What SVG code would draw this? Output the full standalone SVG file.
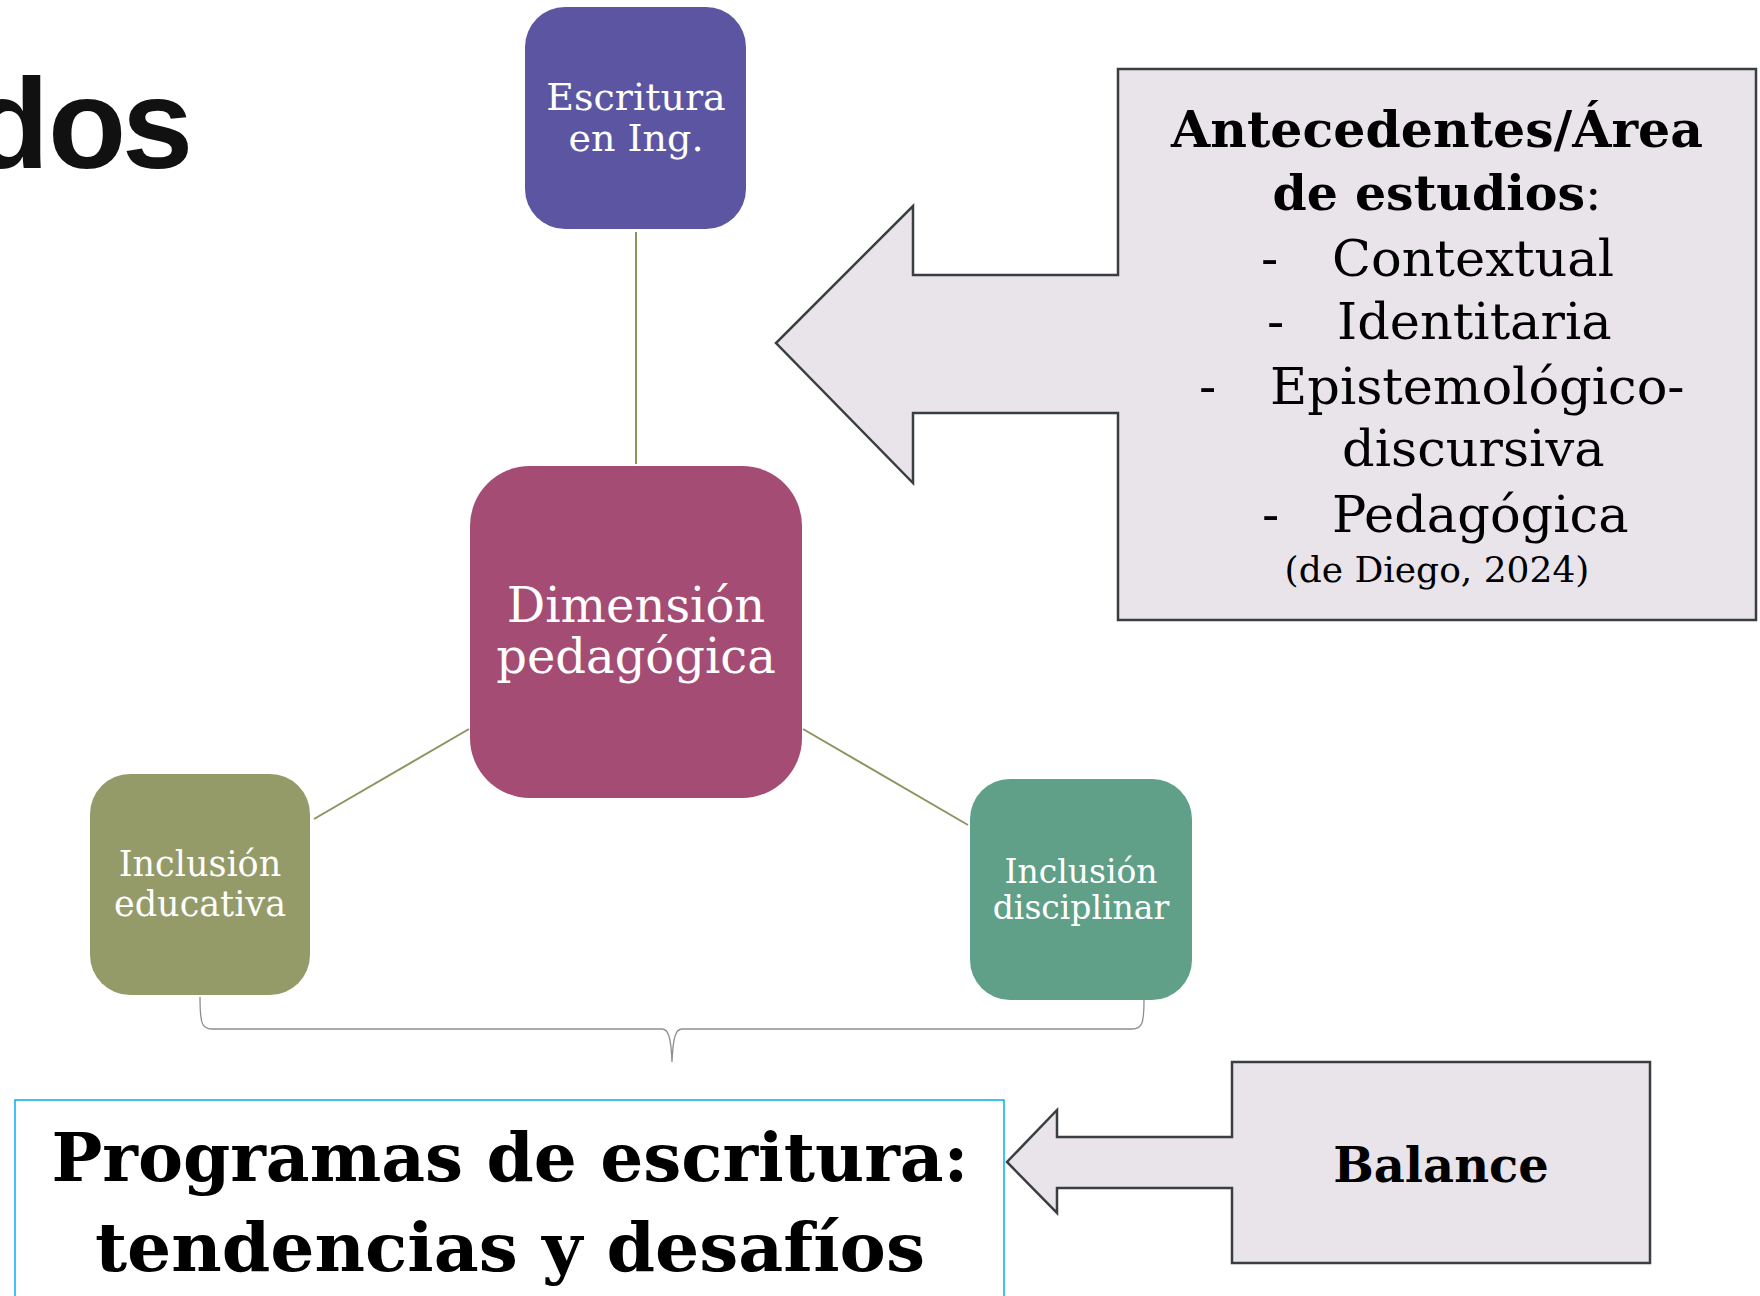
<svg xmlns="http://www.w3.org/2000/svg" width="1760" height="1296" viewBox="0 0 1760 1296">
<style>
.node text{font-family:"DejaVu Serif","Liberation Serif",serif;fill:#fff;text-anchor:middle}
.callout{fill:#E9E4EA;stroke:#3A3E40;stroke-width:2.5}
.ct{font-family:"DejaVu Serif","Liberation Serif",serif;fill:#000}
.conn line{stroke:#8E9460;stroke-width:2}
</style>
<rect width="1760" height="1296" fill="#fff"/>
<text x="-29 48 122" y="168" font-family="Liberation Sans, Arial, sans-serif" font-weight="bold" font-size="128" fill="#111">dos</text>
<g class="conn" id="connectors">
<line x1="636" y1="232" x2="636" y2="464"/>
<line x1="469" y1="729" x2="314" y2="819"/>
<line x1="803" y1="729" x2="968" y2="825"/>
<path d="M200,997 C200,1024 202,1029 212,1029 L662,1029 C668,1029 671,1036 672,1062 C673,1036 676,1029 682,1029 L1132,1029 C1142,1029 1144,1024 1144,1000" fill="none" stroke="#8A9090" stroke-width="1.3"/>
</g>
<g class="node" id="escritura">
<rect x="525" y="7" width="221" height="222" rx="40" fill="#5C56A2"/>
<text x="636" y="110" font-size="38">Escritura</text>
<text x="636" y="151" font-size="38">en Ing.</text>
</g>
<g class="node" id="dimension">
<rect x="470" y="466" width="332" height="332" rx="60" fill="#A44C73"/>
<text x="636" y="622" font-size="48">Dimensión</text>
<text x="636" y="673" font-size="48">pedagógica</text>
</g>
<g class="node" id="educativa">
<rect x="90" y="774" width="220" height="221" rx="40" fill="#949B69"/>
<text x="200" y="876" font-size="35">Inclusión</text>
<text x="200" y="916" font-size="35">educativa</text>
</g>
<g class="node" id="disciplinar">
<rect x="970" y="779" width="222" height="221" rx="40" fill="#61A088"/>
<text x="1081" y="883" font-size="33">Inclusión</text>
<text x="1081" y="919" font-size="33">disciplinar</text>
</g>
<g id="antecedentes">
<path class="callout" d="M1118,69 L1756,69 L1756,620 L1118,620 L1118,413 L913,413 L913,483 L776,343 L913,206 L913,275 L1118,275 Z"/>
<text class="ct" x="1437" y="147" font-size="50" font-weight="bold" text-anchor="middle" textLength="532" lengthAdjust="spacingAndGlyphs">Antecedentes/Área</text>
<text class="ct" x="1437" y="210" font-size="49" text-anchor="middle"><tspan font-weight="bold">de estudios</tspan>:</text>
<text class="ct" x="1261" y="276" font-size="51">-</text>
<text class="ct" x="1332" y="276" font-size="51">Contextual</text>
<text class="ct" x="1267" y="339" font-size="51">-</text>
<text class="ct" x="1337" y="339" font-size="51">Identitaria</text>
<text class="ct" x="1199" y="404" font-size="51">-</text>
<text class="ct" x="1270" y="404" font-size="51">Epistemológico-</text>
<text class="ct" x="1342" y="466" font-size="51">discursiva</text>
<text class="ct" x="1262" y="532" font-size="51">-</text>
<text class="ct" x="1332" y="532" font-size="51">Pedagógica</text>
<text class="ct" x="1437" y="582" font-size="36" text-anchor="middle">(de Diego, 2024)</text>
</g>
<g id="balance">
<path class="callout" d="M1232,1062 L1650,1062 L1650,1263 L1232,1263 L1232,1188 L1057,1188 L1057,1213 L1007,1162 L1057,1110 L1057,1137 L1232,1137 Z"/>
<text class="ct" x="1441" y="1182" font-size="48" font-weight="bold" text-anchor="middle">Balance</text>
</g>
<g id="programas">
<rect x="15" y="1100" width="989" height="220" fill="#fff" stroke="#00B0F0" stroke-width="1.5"/>
<text class="ct" x="510" y="1181" font-size="68" font-weight="bold" text-anchor="middle" textLength="917" lengthAdjust="spacingAndGlyphs">Programas de escritura:</text>
<text class="ct" x="510" y="1271" font-size="68" font-weight="bold" text-anchor="middle" textLength="830" lengthAdjust="spacingAndGlyphs">tendencias y desafíos</text>
</g>
</svg>
